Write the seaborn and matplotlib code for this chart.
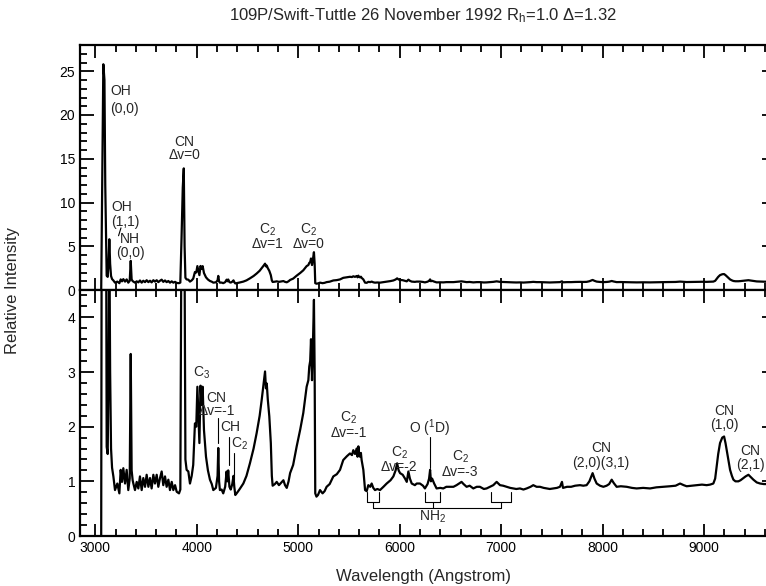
import matplotlib
matplotlib.use("Agg")
import matplotlib.pyplot as plt
import seaborn as sns
import pandas as pd
from matplotlib.ticker import MultipleLocator

# ---- data ----
wavelength = [3058, 3066, 3079, 3090, 3098, 3112, 3122, 3130, 3138, 3146, 3155, 3165,
              3178, 3194, 3217, 3237, 3250, 3263, 3276, 3293, 3309, 3325, 3339, 3349,
              3358, 3368, 3375, 3391, 3408, 3424, 3440, 3457, 3473, 3490, 3506, 3523,
              3539, 3555, 3572, 3588, 3605, 3621, 3638, 3654, 3670, 3687, 3703, 3720,
              3736, 3753, 3769, 3786, 3802, 3825, 3838, 3850, 3862, 3872, 3880, 3888,
              3900, 3917, 3933, 3950, 3965, 3982, 3995, 4006, 4016, 4026, 4037, 4048,
              4058, 4071, 4091, 4110, 4130, 4148, 4163, 4189, 4205, 4212, 4220, 4228,
              4245, 4261, 4280, 4294, 4302, 4310, 4322, 4335, 4350, 4362, 4370, 4380,
              4393, 4420, 4459, 4490, 4524, 4560, 4590, 4620, 4640, 4660, 4673, 4682,
              4690, 4700, 4715, 4730, 4740, 4748, 4770, 4788, 4810, 4830, 4854, 4870,
              4887, 4905, 4920, 4950, 4985, 5020, 5050, 5083, 5100, 5109, 5118, 5126,
              5136, 5145, 5155, 5162, 5168, 5180, 5195, 5215, 5240, 5260, 5280, 5310,
              5346, 5380, 5412, 5444, 5480, 5510, 5530, 5543, 5560, 5576, 5585, 5593,
              5600, 5609, 5618, 5625, 5642, 5659, 5675, 5691, 5710, 5724, 5740, 5757,
              5780, 5806, 5840, 5872, 5910, 5938, 5960, 5975, 5990, 6004, 6030, 6053,
              6070, 6086, 6101, 6119, 6150, 6168, 6200, 6230, 6249, 6275, 6290, 6300,
              6308, 6320, 6340, 6364, 6400, 6430, 6460, 6496, 6530, 6561, 6610, 6630,
              6660, 6690, 6726, 6760, 6791, 6830, 6857, 6890, 6923, 6956, 6989, 7020,
              7054, 7090, 7120, 7150, 7186, 7220, 7252, 7290, 7317, 7350, 7383, 7420,
              7449, 7480, 7514, 7550, 7580, 7600, 7610, 7650, 7690, 7730, 7778, 7810,
              7843, 7870, 7902, 7920, 7942, 7975, 8008, 8040, 8065, 8090, 8110, 8139,
              8180, 8238, 8290, 8336, 8400, 8468, 8530, 8599, 8665, 8720, 8764, 8800,
              8829, 8880, 8928, 8980, 9026, 9060, 9092, 9110, 9125, 9140, 9158, 9180,
              9198, 9212, 9224, 9240, 9257, 9275, 9290, 9310, 9339, 9360, 9388, 9410,
              9438, 9460, 9487, 9520, 9553, 9590, 9625]
intensity = [0.0, 10.0, 25.8, 24.0, 12.0, 1.63, 1.5, 3.0, 5.8, 3.0, 1.6, 1.25,
             1.09, 0.84, 0.96, 0.78, 1.21, 0.99, 1.24, 0.96, 1.21, 0.84, 1.05, 3.33,
             1.2, 1.02, 0.96, 0.84, 0.99, 0.87, 1.09, 0.84, 1.06, 0.90, 1.12, 0.90,
             1.06, 0.87, 1.12, 0.96, 1.12, 0.90, 1.06, 1.18, 0.93, 1.09, 0.90, 1.03,
             0.84, 0.99, 0.84, 0.93, 0.81, 0.78, 0.85, 6.0, 11.7, 13.9, 5.0, 1.4,
             1.21, 1.18, 0.96, 1.1, 1.3, 2.06, 2.0, 2.73, 2.2, 1.70, 2.75, 2.4,
             2.73, 1.94, 1.45, 1.2, 1.03, 0.95, 0.84, 0.88, 1.1, 1.61, 1.0, 0.84,
             0.85, 0.78, 0.9, 1.18, 1.0, 1.2, 0.9, 0.85, 0.95, 1.1, 0.9, 0.75,
             0.78, 0.85, 0.96, 1.1, 1.33, 1.6, 1.88, 2.2, 2.49, 2.8, 3.01, 2.7,
             2.79, 2.5, 2.19, 1.70, 1.1, 0.92, 0.95, 0.99, 0.93, 0.97, 1.02, 0.93,
             0.88, 1.0, 1.15, 1.3, 1.64, 1.95, 2.25, 2.73, 2.85, 3.10, 3.2, 3.6,
             2.85, 3.5, 4.32, 3.0, 0.78, 0.72, 0.75, 0.84, 0.78, 0.82, 0.90, 0.95,
             1.09, 1.13, 1.21, 1.39, 1.46, 1.51, 1.48, 1.57, 1.50, 1.60, 1.45, 1.64,
             1.50, 1.45, 1.52, 1.39, 1.21, 0.84, 0.82, 0.93, 0.90, 0.96, 0.88, 0.84,
             0.86, 0.84, 0.90, 0.96, 1.02, 1.09, 1.2, 1.33, 1.2, 1.15, 1.12, 1.05,
             0.99, 1.18, 1.05, 0.96, 0.93, 0.96, 0.96, 0.92, 0.87, 0.95, 1.05, 1.21,
             1.0, 1.05, 0.96, 0.87, 0.88, 0.87, 0.9, 0.90, 0.9, 0.93, 0.99, 0.95,
             0.90, 0.92, 0.87, 0.9, 0.90, 0.86, 0.87, 0.9, 0.93, 0.99, 0.93, 0.92,
             0.90, 0.88, 0.87, 0.86, 0.87, 0.85, 0.87, 0.9, 0.93, 0.9, 0.90, 0.88,
             0.87, 0.86, 0.87, 0.88, 0.90, 0.99, 0.88, 0.90, 0.90, 0.92, 0.93, 0.92,
             0.93, 1.0, 1.15, 1.05, 0.96, 0.92, 0.90, 0.92, 0.95, 1.03, 0.97, 0.90,
             0.91, 0.90, 0.88, 0.87, 0.88, 0.87, 0.89, 0.90, 0.91, 0.92, 0.96, 0.93,
             0.91, 0.92, 0.93, 0.94, 0.93, 0.94, 0.96, 1.05, 1.27, 1.5, 1.70, 1.80,
             1.82, 1.7, 1.57, 1.4, 1.21, 1.1, 1.03, 1.0, 1.0, 1.02, 1.06, 1.09,
             1.12, 1.08, 1.03, 0.98, 0.96, 0.95, 0.95]

# labels (text, wavelength, intensity, alignment, line spacing) for each panel
top_labels = [("OH\n(0,0)", 3150, 21.7, "left", 1.3),
              ("OH\n(1,1)", 3155, 8.6, "left", 1.1),
              ("NH\n(0,0)", 3342, 5.05, "center", 1.05),
              ("CN\n\u0394v=0", 3877, 16.2, "center", 0.95),
              ("C$_2$\n\u0394v=1", 4696, 6.1, "center", 0.9),
              ("C$_2$\n\u0394v=0", 5100, 6.1, "center", 0.9)]
bottom_labels = [("C$_3$", 4049, 2.98, "center", 1.0),
                 ("CN\n\u0394v=-1", 4196, 2.41, "center", 0.95),
                 ("CH", 4232, 2.0, "left", 1.0),
                 ("C$_2$", 4335, 1.68, "left", 1.0),
                 ("C$_2$\n\u0394v=-1", 5494, 2.04, "center", 1.0),
                 ("C$_2$\n\u0394v=-2", 5997, 1.41, "center", 0.9),
                 ("O ($^1$D)", 6299, 1.97, "center", 1.0),
                 ("C$_2$\n\u0394v=-3", 6595, 1.32, "center", 0.95),
                 ("CN\n(2,0)(3,1)", 7985, 1.47, "center", 1.05),
                 ("CN\n(1,0)", 9200, 2.16, "center", 1.05),
                 ("CN\n(2,1)", 9453, 1.43, "center", 1.05)]
# vertical marker lines (wavelength, y0, y1)
marker_lines = [(4213, 1.70, 2.16), (4318, 1.30, 1.82), (4370, 1.03, 1.51), (6299, 1.24, 1.82)]
# NH2 brackets (left, right, stem)
nh2_brackets = [(5675, 5800, 5741), (6250, 6398, 6325), (6900, 7100, 6999)]

df = pd.DataFrame({"wavelength": wavelength, "intensity": intensity})

sns.set_theme(style="ticks")
plt.rcParams["font.family"] = ["Liberation Sans", "DejaVu Sans"]
plt.rcParams["mathtext.default"] = "regular"

fig = plt.figure(figsize=(7.66, 5.86), dpi=100)
W, H = 766.0, 586.0
left = 80 / W
width = 687 / W
ax_top = fig.add_axes([left, (H - 290) / H, width, 245 / H])
ax_bot = fig.add_axes([left, (H - 536) / H, width, 246 / H])

xlim = (2849, 9621)
for ax, ylim in ((ax_top, (0, 28)), (ax_bot, (0, 4.5))):
    sns.lineplot(data=df, x="wavelength", y="intensity", ax=ax, color="black",
                 linewidth=1.6, estimator=None, sort=False, legend=False)
    ax.set_xlim(*xlim)
    ax.set_ylim(*ylim)
    ax.set_xlabel("")
    ax.set_ylabel("")
    for s in ax.spines.values():
        s.set_linewidth(1.6)
        s.set_color("black")
    ax.xaxis.set_major_locator(MultipleLocator(1000))
    ax.xaxis.set_minor_locator(MultipleLocator(200))
    ax.tick_params(axis="x", which="major", direction="in", length=9, width=1.3,
                   top=True, bottom=True, colors="black", labelsize=10)
    ax.tick_params(axis="x", which="minor", direction="in", length=5, width=1.3,
                   top=True, bottom=True, colors="black")
    ax.tick_params(axis="y", which="major", direction="in", length=10, width=1.3,
                   left=True, right=False, colors="black", labelsize=10)
    ax.tick_params(axis="y", which="minor", direction="in", length=5, width=1.3,
                   left=True, right=False, colors="black")
    ax.spines["right"].set_visible(False)
    sec = ax.secondary_yaxis("right")
    sec.tick_params(axis="y", which="major", direction="in", length=3.5, width=1.3,
                    labelright=False, colors="black")
    sec.tick_params(axis="y", which="minor", length=0)
    sec.spines["right"].set_linewidth(1.6)
    ax.set_facecolor("white")

ax_top.yaxis.set_major_locator(MultipleLocator(5))
ax_top.yaxis.set_minor_locator(MultipleLocator(1))
ax_top.tick_params(axis="x", labelbottom=False)
ax_bot.yaxis.set_major_locator(MultipleLocator(1))
ax_bot.yaxis.set_minor_locator(MultipleLocator(0.2))

for txt, x, y, ha, ls in top_labels:
    ax_top.text(x, y, txt, ha=ha, va="center", fontsize=10, linespacing=ls)
for txt, x, y, ha, ls in bottom_labels:
    ax_bot.text(x, y, txt, ha=ha, va="center", fontsize=10, linespacing=ls)

# slash from OH(1,1) label
ax_top.plot([3229, 3253], [6.2, 7.1], color="black", lw=0.8)
for x, y0, y1 in marker_lines:
    ax_bot.plot([x, x], [y0, y1], color="black", lw=0.8)
for l, r, s in nh2_brackets:
    ax_bot.plot([l, l, r, r], [0.80, 0.62, 0.62, 0.80], color="black", lw=0.8)
    ax_bot.plot([s, s], [0.62, 0.51], color="black", lw=0.8)
ax_bot.plot([nh2_brackets[0][2], nh2_brackets[-1][2]], [0.51, 0.51], color="black", lw=0.8)
ax_bot.text(6325, 0.36, "NH$_2$", ha="center", va="center", fontsize=10)

fig.text((80 + 766) / 2 / W, 1 - 16 / H,
         "109P/Swift-Tuttle 26 November 1992 R$_h$=1.0 \u0394=1.32",
         ha="center", va="center", fontsize=12)
fig.text((80 + 766) / 2 / W, 1 - 577 / H, "Wavelength (Angstrom)",
         ha="center", va="center", fontsize=12)
fig.text(13 / W, 1 - 290 / H, "Relative Intensity", ha="center", va="center",
         rotation=90, fontsize=12)

fig.savefig("out.png", dpi=100, facecolor="white")
